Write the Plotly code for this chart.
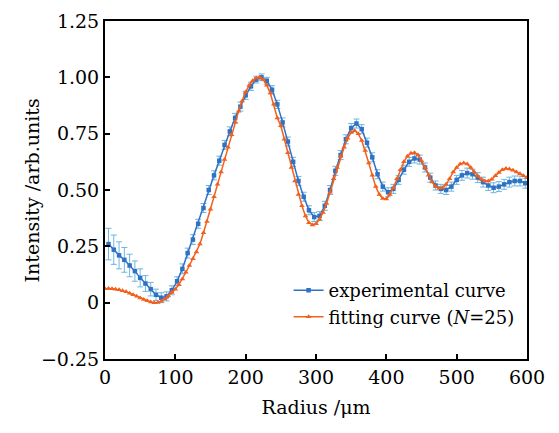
import plotly.graph_objects as go

# --- DATA ---
# experimental curve (blue squares with error bars)
exp_radius = [5 + 7.5 * i for i in range(80)]
exp_intensity = [
    0.26, 0.235, 0.21, 0.19, 0.165, 0.14, 0.11, 0.085, 0.06, 0.035,
    0.022, 0.028, 0.055, 0.095, 0.15, 0.22, 0.28, 0.35, 0.42, 0.50,
    0.565, 0.63, 0.70, 0.76, 0.82, 0.87, 0.92, 0.96, 0.99, 1.0,
    0.985, 0.945, 0.88, 0.80, 0.715, 0.625, 0.54, 0.47, 0.41, 0.38,
    0.385, 0.43, 0.50, 0.585, 0.655, 0.725, 0.775, 0.795, 0.77, 0.71,
    0.645, 0.57, 0.515, 0.49, 0.505, 0.545, 0.59, 0.625, 0.64, 0.635,
    0.60, 0.555, 0.52, 0.505, 0.50, 0.515, 0.545, 0.565, 0.575, 0.57,
    0.555, 0.535, 0.52, 0.51, 0.515, 0.525, 0.535, 0.54, 0.54, 0.53,
]
exp_error = [
    0.07, 0.065, 0.06, 0.055, 0.05, 0.045, 0.04, 0.035, 0.03, 0.025,
    0.022, 0.02, 0.02, 0.02, 0.022, 0.022, 0.022, 0.02, 0.02, 0.02,
    0.02, 0.02, 0.02, 0.02, 0.02, 0.02, 0.018, 0.018, 0.015, 0.015,
    0.015, 0.018, 0.018, 0.02, 0.02, 0.02, 0.02, 0.02, 0.02, 0.02,
    0.02, 0.02, 0.02, 0.02, 0.02, 0.02, 0.02, 0.02, 0.02, 0.02,
    0.02, 0.02, 0.02, 0.02, 0.02, 0.02, 0.02, 0.02, 0.02, 0.02,
    0.02, 0.02, 0.02, 0.02, 0.02, 0.02, 0.02, 0.022, 0.022, 0.022,
    0.022, 0.022, 0.022, 0.022, 0.022, 0.022, 0.022, 0.022, 0.022, 0.022,
]

# fitting curve, N=25 (orange triangles)
fit_radius = [5 * i for i in range(121)]
fit_intensity = [
    0.062, 0.063, 0.062, 0.06, 0.057, 0.053, 0.048, 0.042, 0.035, 0.028,
    0.021, 0.014, 0.008, 0.003, 0.0, 0.001, 0.006, 0.016, 0.03, 0.045,
    0.06, 0.08, 0.105, 0.135, 0.165, 0.195, 0.225, 0.26, 0.31, 0.36,
    0.415, 0.47, 0.525, 0.58, 0.635, 0.69, 0.745, 0.80, 0.85, 0.895,
    0.935, 0.965, 0.985, 0.997, 1.0, 0.99, 0.965, 0.93, 0.88, 0.82,
    0.785, 0.725, 0.665, 0.60, 0.54, 0.48, 0.43, 0.385, 0.355, 0.345,
    0.35, 0.37, 0.40, 0.44, 0.49, 0.55, 0.60, 0.65, 0.69, 0.73,
    0.755, 0.763, 0.75, 0.72, 0.675, 0.62, 0.565, 0.515, 0.48, 0.462,
    0.46, 0.48, 0.51, 0.55, 0.59, 0.625, 0.65, 0.663, 0.665, 0.655,
    0.63, 0.60, 0.565, 0.535, 0.515, 0.508, 0.51, 0.525, 0.55, 0.58,
    0.60, 0.615, 0.62, 0.615, 0.60, 0.58, 0.562, 0.548, 0.54, 0.54,
    0.548, 0.563, 0.578, 0.59, 0.595, 0.593, 0.588, 0.58, 0.572, 0.563,
    0.555,
]

x_ticks = [0, 100, 200, 300, 400, 500, 600]
y_ticks = [-0.25, 0, 0.25, 0.5, 0.75, 1.0, 1.25]
y_tick_labels = ["\u22120.25", "0", "0.25", "0.50", "0.75", "1.00", "1.25"]

BLUE = "#2f72c4"
ORANGE = "#f2601c"
ERR = "#6db6e2"
FONT = "DejaVu Serif"

fig = go.Figure()

fig.add_trace(
    go.Scatter(
        x=exp_radius,
        y=exp_intensity,
        mode="lines+markers",
        name="experimental curve",
        line=dict(color=BLUE, width=1.5),
        marker=dict(symbol="square", size=4.5, color=BLUE),
        error_y=dict(type="data", array=exp_error, color=ERR, thickness=1, width=3),
    )
)
fig.add_trace(
    go.Scatter(
        x=fit_radius,
        y=fit_intensity,
        mode="lines+markers",
        name="fitting curve (<i>N</i>=25)",
        line=dict(color=ORANGE, width=1.5),
        marker=dict(symbol="triangle-up", size=5, color=ORANGE),
    )
)

axis_common = dict(
    showgrid=False,
    zeroline=False,
    showline=True,
    linecolor="black",
    linewidth=2,
    mirror=True,
    ticks="inside",
    ticklen=5,
    tickwidth=1.5,
    tickcolor="black",
    automargin=False,
    tickfont=dict(family=FONT, size=19, color="black"),
)

# the page body adds an 8 px offset, so the figure is sized a little smaller
fig.update_layout(
    width=551,
    height=425,
    margin=dict(l=97, r=32, t=13, b=74),
    paper_bgcolor="white",
    plot_bgcolor="white",
    font=dict(family=FONT, size=19, color="black"),
    xaxis=dict(
        range=[0, 600],
        tickvals=x_ticks,
        title=dict(text="Radius /\u03bcm", font=dict(family=FONT, size=19), standoff=14),
        **axis_common,
    ),
    yaxis=dict(
        range=[-0.25, 1.25],
        tickvals=y_ticks,
        ticktext=y_tick_labels,
        **axis_common,
    ),
    legend=dict(
        x=0.435,
        y=0.257,
        xanchor="left",
        yanchor="top",
        bgcolor="rgba(0,0,0,0)",
        font=dict(family=FONT, size=18),
        tracegroupgap=0,
    ),
    showlegend=True,
)

# y title as annotation so it sits closer to the tick labels
fig.add_annotation(
    text="Intensity /arb.units",
    xref="paper",
    yref="paper",
    x=-0.172,
    y=0.5,
    xanchor="center",
    yanchor="middle",
    textangle=-90,
    showarrow=False,
    font=dict(family=FONT, size=19, color="black"),
)

fig.write_html("out.html")
